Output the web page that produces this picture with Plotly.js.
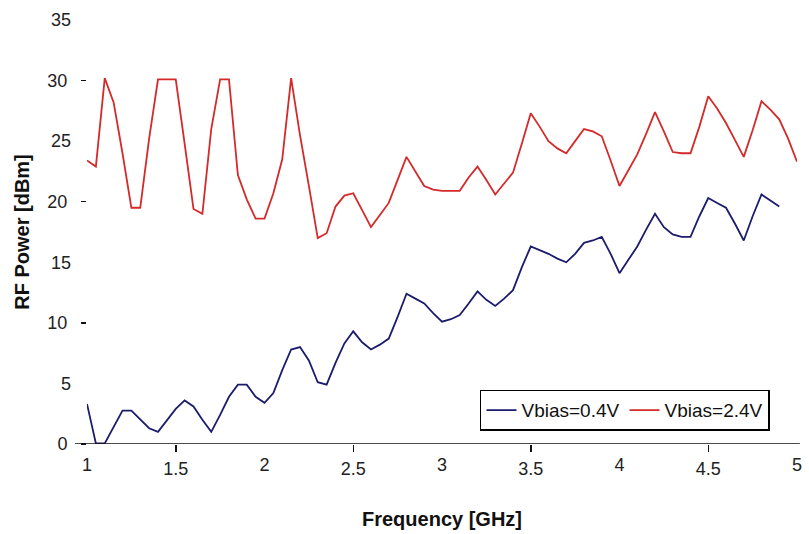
<!DOCTYPE html>
<html>
<head>
<meta charset="utf-8">
<script src="https://cdn.plot.ly/plotly-3.0.1.min.js"></script>
<style>html,body{margin:0;padding:0;background:#fff;}#chart{width:809px;height:534px;}</style>
</head>
<body>
<div id="chart"></div>
<script>
// Frequency grid (GHz)
const freq = [1.00,1.05,1.10,1.15,1.20,1.25,1.30,1.35,1.40,1.45,1.50,1.55,1.60,1.65,1.70,1.75,1.80,1.85,1.90,1.95,
  2.00,2.05,2.10,2.15,2.20,2.25,2.30,2.35,2.40,2.45,2.50,2.55,2.60,2.65,2.70,2.75,2.80,2.85,2.90,2.95,
  3.00,3.05,3.10,3.15,3.20,3.25,3.30,3.35,3.40,3.45,3.50,3.55,3.60,3.65,3.70,3.75,3.80,3.85,3.90,3.95,
  4.00,4.05,4.10,4.15,4.20,4.25,4.30,4.35,4.40,4.45,4.50,4.55,4.60,4.65,4.70,4.75,4.80,4.85,4.90,4.95,5.00];

// RF power [dBm], Vbias = 0.4 V (ends at 4.9 GHz)
const vbias04 = [3.3,0.05,0.05,1.4,2.75,2.75,2.0,1.3,1.0,2.0,2.9,3.6,3.1,2.0,1.0,2.4,3.9,4.9,4.9,3.9,
  3.4,4.2,6.1,7.8,8.0,6.9,5.1,4.9,6.7,8.3,9.3,8.4,7.8,8.2,8.7,10.5,12.4,12.0,11.6,10.8,
  10.1,10.3,10.65,11.6,12.6,11.9,11.4,12.0,12.7,14.6,16.3,16.0,15.7,15.3,15.0,15.7,16.6,16.8,17.1,15.7,
  14.1,15.2,16.3,17.7,19.0,17.9,17.3,17.1,17.1,18.8,20.3,19.9,19.5,18.2,16.8,18.8,20.6,20.1,19.6];

// RF power [dBm], Vbias = 2.4 V
const vbias24 = [23.4,22.9,30.2,28.2,24.0,19.5,19.5,25.2,30.1,30.1,30.1,24.8,19.4,19.0,26.0,30.1,30.1,22.2,20.2,18.6,
  18.6,20.7,23.5,30.2,25.5,21.3,17.0,17.4,19.6,20.5,20.7,19.3,17.9,18.9,19.9,21.8,23.7,22.5,21.3,21.0,
  20.9,20.9,20.9,22.0,22.9,21.8,20.6,21.5,22.4,24.8,27.3,26.2,25.0,24.4,24.0,25.0,26.0,25.8,25.4,23.4,
  21.3,22.6,23.9,25.6,27.4,25.8,24.1,24.0,24.0,26.2,28.7,27.7,26.5,25.1,23.7,25.9,28.3,27.6,26.8,25.2,23.3];

const seriesNames = ["Vbias=0.4V", "Vbias=2.4V"];
// x labels with tick marks / without tick marks
const xMarkVals = [1.5,2.5,3.5,4.5];
const xMarkText = ["1.5","2.5","3.5","4.5"];
const xPlainVals = [1,2,3,4,5];
const xPlainText = ["1","2","3","4","5"];
// y labels with tick marks / without tick marks
const yMarkVals = [0,10,20,30];
const yPlainVals = [5,15,25,35];

const FONT = "Liberation Sans, Arial, sans-serif";

const traces = [
  {x: freq.slice(0, vbias04.length), y: vbias04, name: seriesNames[0], type: "scatter", mode: "lines",
   line: {color: "#1c1c6c", width: 1.8}},
  {x: freq, y: vbias24, name: seriesNames[1], type: "scatter", mode: "lines", xaxis: "x2", yaxis: "y2",
   line: {color: "#d42a2a", width: 1.8}}
];

const tickFont = {family: FONT, size: 18, color: "#222"};

const layout = {
  width: 809, height: 534,
  margin: {l: 87, r: 12, t: 20, b: 90},
  paper_bgcolor: "#fff", plot_bgcolor: "#fff",
  font: {family: FONT, color: "#222", size: 18},
  showlegend: true,
  legend: {orientation: "h", x: 0.5535, y: 0.128, xanchor: "left", yanchor: "top",
    bgcolor: "#fff", bordercolor: "#000", borderwidth: 1.5, font: {family: FONT, size: 19, color: "#111"}},
  xaxis: {range: [1, 5], tickmode: "array", tickvals: xMarkVals, ticktext: xMarkText,
    ticks: "outside", ticklen: 7, tickwidth: 1.5, tickcolor: "#111", tickfont: tickFont,
    showgrid: false, zeroline: false, showline: false, ticklabelstandoff: 1,
    title: {text: "<b>Frequency [GHz]</b>", font: {family: FONT, size: 20, color: "#111"}, standoff: 34}},
  yaxis: {range: [0, 35], tickmode: "array", tickvals: yMarkVals,
    ticks: "outside", ticklen: 5, tickwidth: 1.5, tickcolor: "#111", tickfont: tickFont,
    showgrid: false, zeroline: false, showline: false, ticklabelstandoff: 10,
    title: {text: "<b>RF Power [dBm]</b>", font: {family: FONT, size: 20, color: "#111"}, standoff: 12}},
  xaxis2: {overlaying: "x", anchor: "y2", side: "bottom", range: [1, 5], tickmode: "array",
    tickvals: xPlainVals, ticktext: xPlainText, ticks: "", tickfont: tickFont, ticklabelstandoff: 8,
    showgrid: false, zeroline: false, showline: false},
  yaxis2: {overlaying: "y", anchor: "x2", side: "left", range: [0, 35], tickmode: "array",
    tickvals: yPlainVals, ticks: "", tickfont: tickFont, ticklabelstandoff: 15,
    showgrid: false, zeroline: false, showline: false},
  shapes: [{type: "line", xref: "paper", yref: "y", x0: -0.017, x1: 1.004, y0: 0, y1: 0,
    line: {color: "#111", width: 1.5}}]
};

Plotly.newPlot("chart", traces, layout, {displayModeBar: false, staticPlot: true});
</script>
</body>
</html>
